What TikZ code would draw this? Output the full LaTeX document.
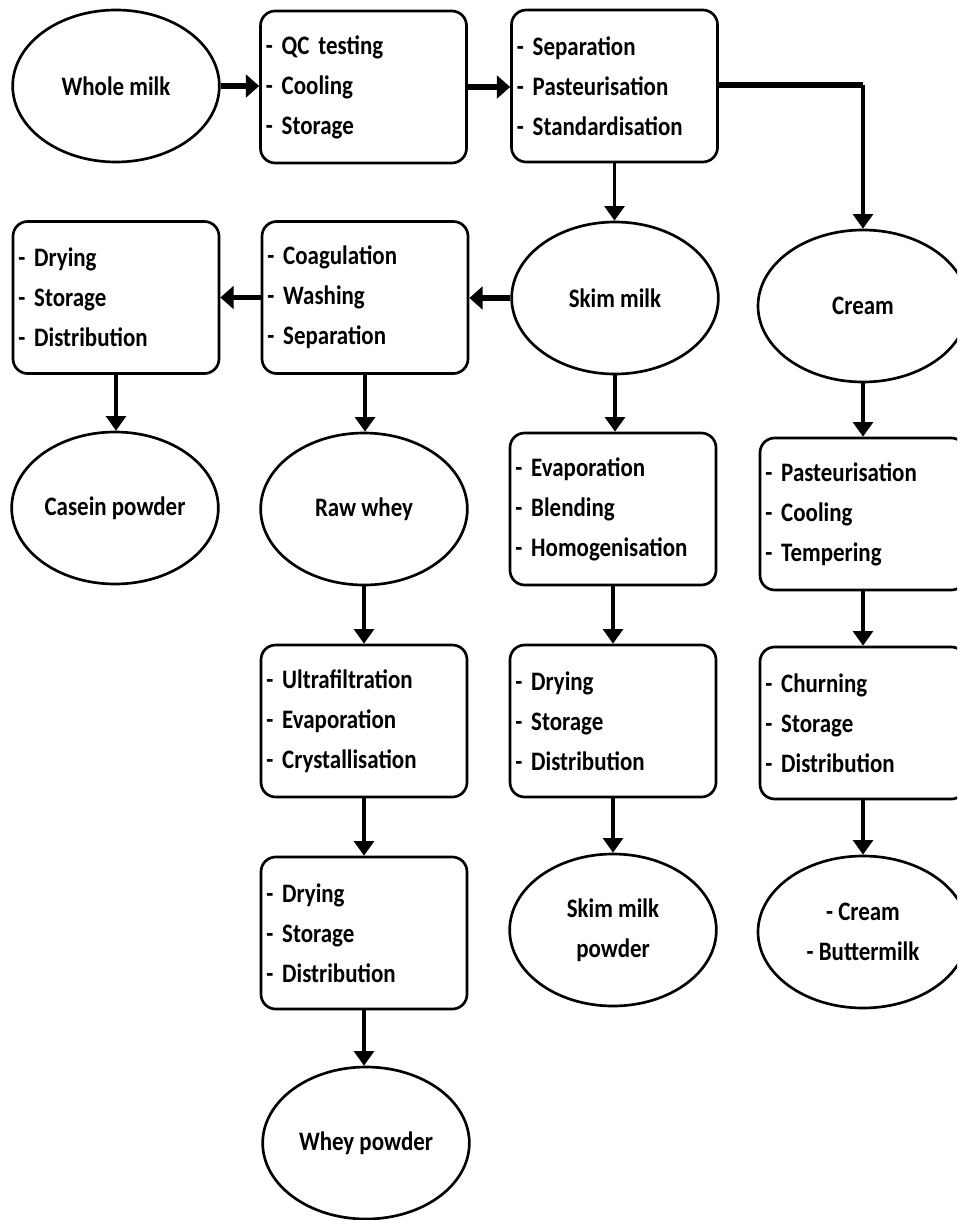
\documentclass[tikz,border=0pt]{standalone}
\usepackage{fontspec}
\setmainfont[FakeStretch=0.86]{Carlito}
\usetikzlibrary{shapes.geometric,arrows.meta}
\hyphenpenalty=10000
\begin{document}
\begin{tikzpicture}[x=0.75pt,y=-0.75pt,
  txt/.style={font=\bfseries\fontsize{20}{30}\selectfont},
  procbox/.style={txt, draw, line width=2pt, rounded corners=11pt, align=left,
    inner xsep=4pt, text width=146.5pt, minimum height=114pt},
  endnode/.style={txt, draw, ellipse, line width=2pt, align=center, inner sep=0pt,
    minimum width=155pt, minimum height=114pt},
  thin arrow/.style={line width=2.4pt, -{Triangle[length=11pt,width=15pt]}},
  thick arrow/.style={line width=3.8pt, -{Triangle[length=10pt,width=17pt]}},
  thick line/.style={line width=4pt}
]
\useasboundingbox (0,0) rectangle (957,1220);
\clip (0,0) rectangle (957,1220);

% nodes
\node[endnode] (wm) at (116,86) {Whole milk};
\node[procbox] (b1) at (363.5,87) {- QC testing\\- Cooling\\- Storage};
\node[procbox] (b2) at (614.5,86) {- Separation\\- Pasteurisation\\- Standardisation};

\node[endnode] (skim) at (615,298) {Skim milk};
\node[endnode, minimum width=157.5pt] (cream) at (863,306) {Cream};
\node[procbox] (coag) at (365,297.5) {- Coagulation\\- Washing\\- Separation};
\node[procbox] (dry1) at (116,297.5) {- Drying\\- Storage\\- Distribution};

\node[endnode] (casein) at (115,508) {Casein powder};
\node[endnode] (raw) at (364,509) {Raw whey};
\node[procbox] (evap) at (613,509) {- Evaporation\\- Blending\\- Homogenisation};
\node[procbox] (past) at (863,514) {- Pasteurisation\\- Cooling\\- Tempering};

\node[procbox] (ultra) at (364,721) {- Ultrafiltration\\- Evaporation\\- Crystallisation};
\node[procbox] (dry2) at (613,721) {- Drying\\- Storage\\- Distribution};
\node[procbox] (churn) at (863,723) {- Churning\\- Storage\\- Distribution};

\node[procbox] (dry3) at (364,933) {- Drying\\- Storage\\- Distribution};
\node[endnode] (smp) at (613,930) {Skim milk\\powder};
\node[endnode, minimum width=157.5pt] (butter) at (863,932) {- Cream\\- Buttermilk};

\node[endnode] (whey) at (366,1143) {Whey powder};

\coordinate (turn) at (863,85);

% connectors
\draw[thick arrow] (wm.east) -- (wm.east -| b1.west);
\draw[thick arrow] (b1.east) -- (b1.east -| b2.west);
\draw[thick line] (b2.east |- turn) -- (turn);
\draw[thin arrow] (turn) -- (cream.north);
\draw[thin arrow] (b2.south) -- (b2.south |- skim.north);
\draw[thick arrow] (skim.west) -- (skim.west -| coag.east);
\draw[thick arrow] (coag.west) -- (coag.west -| dry1.east);
\draw[thin arrow] (dry1.south) -- (dry1.south |- casein.north);
\draw[thin arrow] (coag.south) -- (coag.south |- raw.north);
\draw[thin arrow] (skim.south) -- (skim.south |- evap.north);
\draw[thin arrow] (evap.south) -- (evap.south |- dry2.north);
\draw[thin arrow] (dry2.south) -- (dry2.south |- smp.north);
\draw[thin arrow] (cream.south) -- (cream.south |- past.north);
\draw[thin arrow] (past.south) -- (past.south |- churn.north);
\draw[thin arrow] (churn.south) -- (churn.south |- butter.north);
\draw[thin arrow] (raw.south) -- (raw.south |- ultra.north);
\draw[thin arrow] (ultra.south) -- (ultra.south |- dry3.north);
\draw[thin arrow] (dry3.south) -- (dry3.south |- whey.north);
\end{tikzpicture}
\end{document}
